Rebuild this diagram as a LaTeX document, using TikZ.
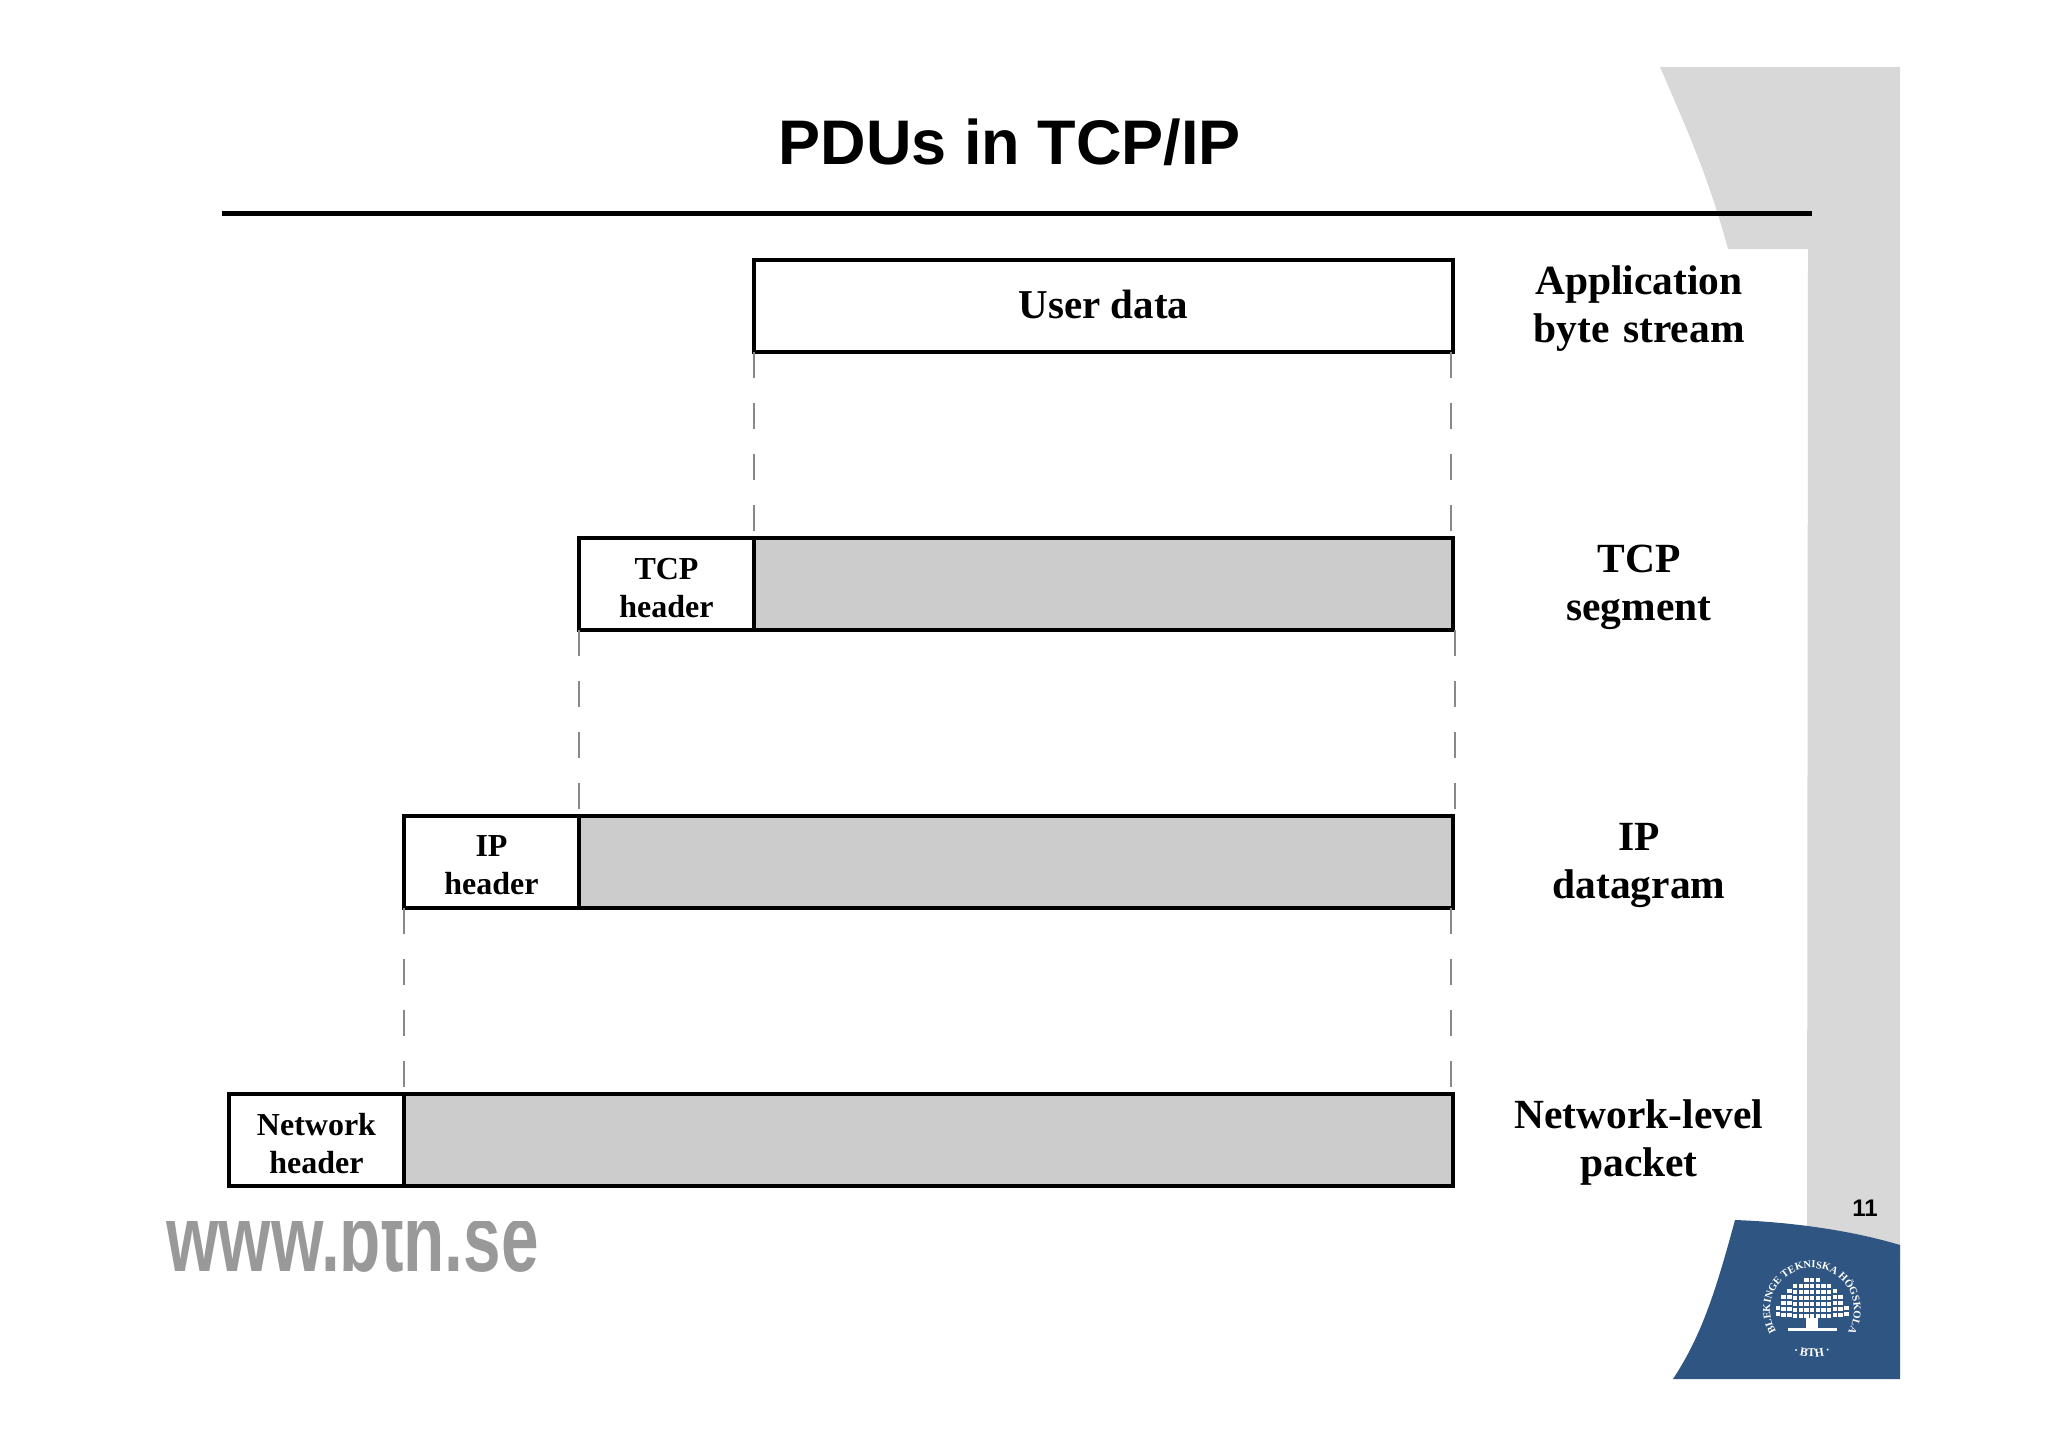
\documentclass[tikz,border=0pt]{standalone}
\usepackage{fontspec}
\setmainfont{Liberation Serif}
\newfontfamily\slidefont{Liberation Sans}
\usepackage{tikz}
\usetikzlibrary{positioning, decorations.text}
\definecolor{SlideGray}{HTML}{D8D8D8}
\definecolor{BodyGray}{HTML}{CCCCCC}
\definecolor{GuideGray}{HTML}{888888}
\definecolor{LogoBlue}{HTML}{2F5582}
\tikzstyle{Box} = [
rectangle, draw, line width=4.2pt, outer sep=0pt, inner sep=0pt,
minimum height=92pt, font=\bfseries\fontsize{32}{38}\selectfont, align=center]
\tikzstyle{Body} = [Box, fill=BodyGray]
\tikzstyle{Header} = [Box, fill=white, minimum width=175pt, text depth=1pt]
\tikzstyle{Label} = [
text width=270pt, align=center, inner sep=0pt, outer sep=0pt, yshift=-3pt,
font=\bfseries\fontsize{41.5}{48}\selectfont]
\tikzstyle{Guide} = [
draw=GuideGray, line width=1.6pt, dash pattern=on 26pt off 25pt]

\begin{document}
\begin{tikzpicture}[x=1pt, y=-1pt]
    \useasboundingbox (0,0) rectangle (2048,1448);
    % slide background
    \fill [SlideGray] (1660,67) -- (1900,67) -- (1900,1260) -- (1807,1260) -- (1808,249)
        -- (1728,249) .. controls (1708,175) and (1685,125) .. cycle;
    \draw [line width=5pt] (222,213) -- (1812,213);
    \node [font=\slidefont\bfseries\fontsize{63}{63}\selectfont] (12) at (1010,142) {PDUs in TCP/IP};
    \fill [LogoBlue] (1735,1220) .. controls (1790,1222) and (1850,1230) .. (1900,1245)
        -- (1900,1379) -- (1673,1379) .. controls (1702,1335) and (1716,1290) .. cycle;
    \node [font=\slidefont\bfseries\fontsize{24}{24}\selectfont] (13) at (1865,1208) {11};
    % clipped address
    \begin{scope}
        \clip (150,1221) rectangle (560,1300);
        \node [anchor=base west, inner sep=0pt, xscale=0.703, text=black!40,
            font=\slidefont\bfseries\fontsize{96}{96}\selectfont] (14) at (166,1271) {www.bth.se};
    \end{scope}
    % logo
    \path [decorate, decoration={text along path, text align=center,
        text={|\bfseries\fontsize{10.5}{12}\selectfont\color{white}|BLEKINGE TEKNISKA HÖGSKOLA}}]
        (1812,1310) ++(222:42pt) arc [start angle=222, end angle=-42, radius=42pt];
    \path [decorate, decoration={text along path, text align=center,
        text={|\bfseries\fontsize{12}{12}\selectfont\color{white}|· BTH ·}}]
        (1812,1310) ++(235:47pt) arc [start angle=235, end angle=305, radius=47pt];
    \foreach \i/\h in {-6/1306,-5/1295,-4/1289,-3/1284,-2/1284,-1/1278,0/1278,1/1278,2/1284,3/1284,4/1289,5/1295,6/1306}
        \foreach \y in {\h,...,1317} {
            \pgfmathparse{int(mod(\y-\h,6))}
            \ifnum\pgfmathresult=0
                \fill [white] (1812+\i*5.7-2.1,\y) rectangle ++(4.4,4.4);
            \fi
        }
    \fill [white] (1806,1318) rectangle (1818,1329);
    \fill [white] (1788,1328) rectangle (1837,1331);
    % PDU boxes
    \node [Box, minimum width=699pt, font=\bfseries\fontsize{41}{48}\selectfont] (1) at (1103.5,306) {\raisebox{2.5pt}{User data}};
    \node [Body, minimum width=699pt, below left=186pt and 0pt of 1.south east] (2) {};
    \node [Header, left=0pt of 2] (3) {\raisebox{-8pt}{TCP}\\\raisebox{-8pt}{header}};
    \node [Body, minimum width=874pt, below left=186pt and 0pt of 2.south east] (4) {};
    \node [Header, left=0pt of 4] (5) {\raisebox{-8pt}{IP}\\\raisebox{-8pt}{header}};
    \node [Body, minimum width=1049pt, below left=186pt and 0pt of 4.south east] (6) {};
    \node [Header, left=0pt of 6] (7) {\raisebox{-7pt}{Network}\\\raisebox{-7pt}{header}};
    \node [Label, right=51pt of 1] (8) {Application\\byte stream};
    \node [Label, right=51pt of 2] (9) {TCP\\segment};
    \node [Label, right=51pt of 4] (10) {IP\\datagram};
    \node [Label, right=51pt of 6] (11) {Network-level\\packet};
    \draw [Guide] (1.south west) to (2.north west); \draw [Guide] ([xshift=-2pt]1.south east) to ([xshift=-2pt]2.north east);
    \draw [Guide] (3.south west) to (4.north west); \draw [Guide] ([xshift=2pt]2.south east) to ([xshift=2pt]4.north east);
    \draw [Guide] (5.south west) to (6.north west); \draw [Guide] ([xshift=-2pt]4.south east) to ([xshift=-2pt]6.north east);
\end{tikzpicture}
\end{document}
